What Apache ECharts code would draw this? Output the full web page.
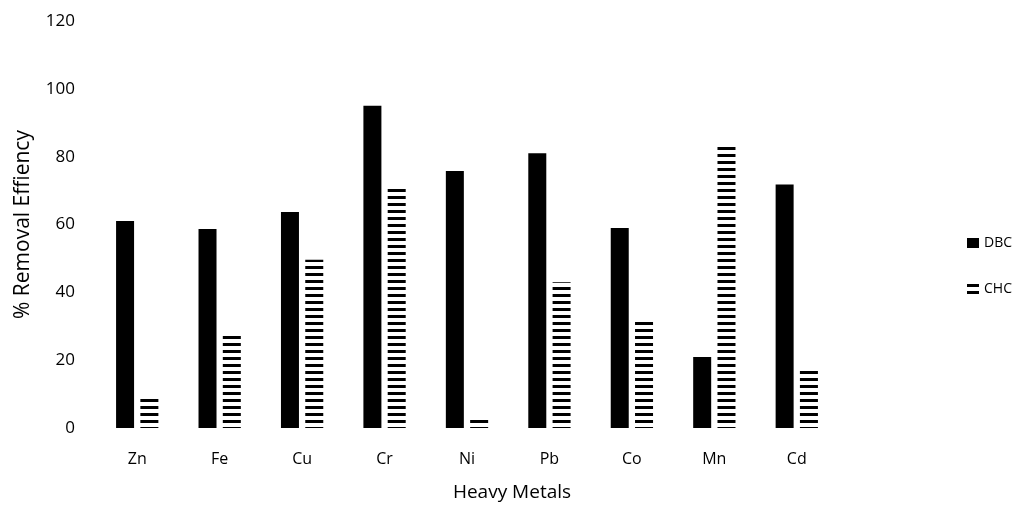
<!DOCTYPE html>
<html>
<head>
<meta charset="utf-8">
<script src="https://cdn.jsdelivr.net/npm/echarts@6/dist/echarts.min.js"></script>
<style>
  html, body { margin: 0; padding: 0; background: #fff; }
  #chart { width: 1021px; height: 509px; }
</style>
</head>
<body>
<div id="chart"></div>
<script>
// Heavy metal removal efficiency (%) for the two adsorbents
const categories = ['Zn', 'Fe', 'Cu', 'Cr', 'Ni', 'Pb', 'Co', 'Mn', 'Cd'];
const dbcValues = [61, 58.7, 63.7, 95, 75.8, 81, 59, 20.9, 71.8];
const chcValues = [9.7, 27.4, 49.6, 71.2, 3.5, 43, 32.3, 83, 17.3];
const yMin = 0;
const yMax = 120;
const yStep = 20;

// Horizontal-stripe fill for the CHC series
function stripePattern() {
  const c = document.createElement('canvas');
  c.width = 4;
  c.height = 7;
  const ctx = c.getContext('2d');
  ctx.fillStyle = '#ffffff';
  ctx.fillRect(0, 0, 4, 7);
  ctx.fillStyle = '#000000';
  ctx.fillRect(0, 0, 4, 3);
  return c;
}

const font = 'Open Sans';
const chart = echarts.init(document.getElementById('chart'), null, { renderer: 'canvas' });

chart.setOption({
  backgroundColor: '#ffffff',
  animation: false,
  textStyle: { fontFamily: font, color: '#000' },
  grid: { left: 96, right: 183, top: 21, bottom: 81 },
  legend: {
    orient: 'vertical',
    left: 962,
    top: 231,
    itemWidth: 12,
    itemHeight: 10,
    itemGap: 32,
    icon: 'rect',
    textStyle: { fontFamily: font, fontSize: 14, color: '#000' },
    data: ['DBC', 'CHC']
  },
  xAxis: {
    type: 'category',
    data: categories,
    name: 'Heavy Metals',
    nameLocation: 'middle',
    nameGap: 55,
    nameTextStyle: { fontFamily: font, fontSize: 19, color: '#000', padding: [0, 0, 0, 90] },
    axisLine: { show: false },
    axisTick: { show: false },
    axisLabel: { fontFamily: font, fontSize: 16, color: '#000', margin: 23 },
    splitLine: { show: false }
  },
  yAxis: {
    type: 'value',
    min: yMin,
    max: yMax,
    interval: yStep,
    name: '% Removal Effiency',
    nameLocation: 'middle',
    nameGap: 62,
    nameTextStyle: { fontFamily: font, fontSize: 21, color: '#000' },
    axisLine: { show: false },
    axisTick: { show: false },
    axisLabel: { fontFamily: font, fontSize: 17, color: '#000', margin: 21 },
    splitLine: { show: false }
  },
  series: [
    {
      name: 'DBC',
      type: 'bar',
      data: dbcValues,
      barWidth: 18,
      barGap: '35%',
      itemStyle: { color: '#000000' }
    },
    {
      name: 'CHC',
      type: 'bar',
      data: chcValues,
      barWidth: 18,
      itemStyle: { color: { image: stripePattern(), repeat: 'repeat' } }
    }
  ]
});
</script>
</body>
</html>
